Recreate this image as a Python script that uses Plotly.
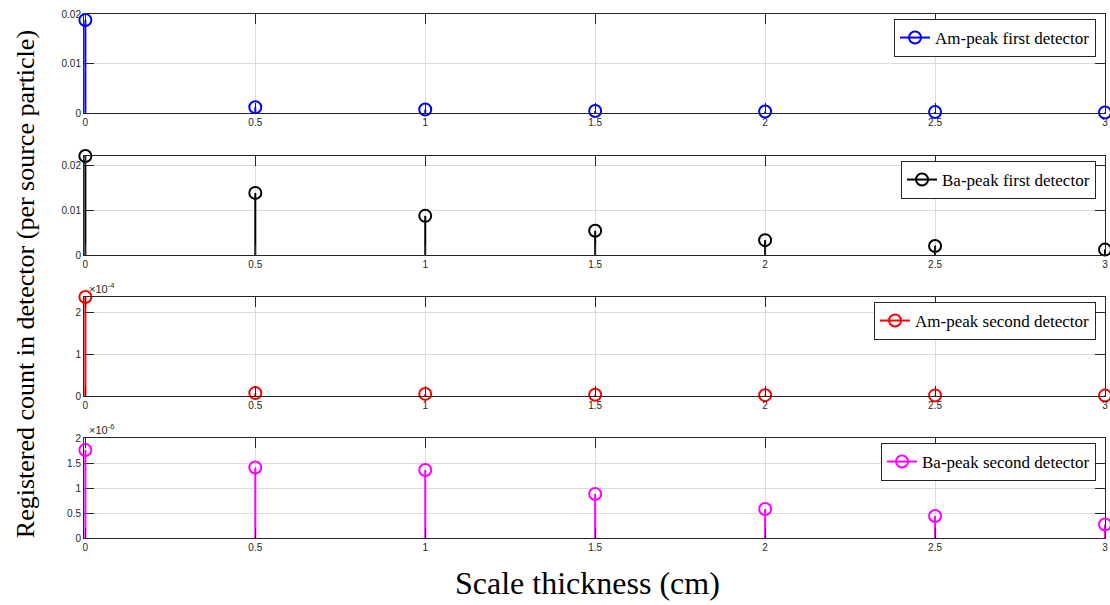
import plotly.graph_objects as go

# ---------------- data ----------------
thickness = [0, 0.5, 1, 1.5, 2, 2.5, 3]
am_first = [0.0188, 0.00115, 0.0007, 0.0004, 0.0003, 0.0002, 0.0001]
ba_first = [0.0220, 0.0138, 0.0087, 0.0054, 0.0033, 0.0020, 0.0012]
am_second = [2.38e-4, 0.07e-4, 0.05e-4, 0.03e-4, 0.02e-4, 0.015e-4, 0.01e-4]
ba_second = [1.76e-6, 1.41e-6, 1.36e-6, 0.88e-6, 0.58e-6, 0.44e-6, 0.27e-6]

series_names = ["Am-peak first detector", "Ba-peak first detector",
                "Am-peak second detector", "Ba-peak second detector"]
series_values = [am_first, ba_first, am_second, ba_second]
series_colors = ["#0000ff", "#000000", "#ff0000", "#ff00ff"]

x_tick_vals = [0, 0.5, 1, 1.5, 2, 2.5, 3]
x_tick_text = ["0", "0.5", "1", "1.5", "2", "2.5", "3"]
y_tick_vals = [[0, 0.01, 0.02], [0, 0.01, 0.02], [0, 1e-4, 2e-4],
               [0, 0.5e-6, 1e-6, 1.5e-6, 2e-6]]
y_tick_text = [["0", "0.01", "0.02"], ["0", "0.01", "0.02"], ["0", "1", "2"],
               ["0", "0.5", "1", "1.5", "2"]]
y_ranges = [[0, 0.02], [0, 0.022], [0, 2.38e-4], [0, 2e-6]]
x_range = [-0.004, 3]
exponents = [None, None, "\u00d710<sup>-4</sup>", "\u00d710<sup>-6</sup>"]

# ---------------- layout geometry (pixels) ----------------
W, H = 1110, 605
L, R, T, B = 84, 2, 14, 67
panel_px = [(14, 113), (156, 255), (297, 396), (438, 538)]
plot_h = H - T - B
plot_w = W - L - R


def py(p):
    return (H - B - p) / plot_h


fig = go.Figure()
layout = dict(
    width=W, height=H,
    margin=dict(l=L, r=R, t=T, b=B, pad=0),
    paper_bgcolor="white", plot_bgcolor="white",
    showlegend=True,
    annotations=[],
)

tick_font = dict(family="Liberation Sans, Arial, sans-serif", size=10, color="#262626")
serif = "Liberation Serif, Times New Roman, serif"

for i in range(4):
    n = "" if i == 0 else str(i + 1)
    xa, ya = "x" + n, "y" + n
    leg = "legend" + n
    vals = series_values[i]
    col = series_colors[i]
    # stems (drawn as one-sided error bars down to zero) + open circle markers
    fig.add_trace(go.Scatter(x=thickness, y=vals, mode="markers", xaxis=xa, yaxis=ya,
                             marker=dict(symbol="circle-open", size=12, color=col,
                                         line=dict(width=2, color=col)),
                             error_y=dict(type="data", symmetric=False,
                                          array=[0] * len(vals), arrayminus=vals,
                                          color=col, thickness=2, width=0),
                             showlegend=False, cliponaxis=False))
    # legend entry
    fig.add_trace(go.Scatter(x=[None], y=[None], mode="lines+markers", xaxis=xa, yaxis=ya,
                             name=series_names[i], legend=leg,
                             line=dict(color=col, width=2),
                             marker=dict(symbol="circle-open", size=12, color=col,
                                         line=dict(width=2, color=col))))
    top, bot = panel_px[i]
    axis_common = dict(showline=True, linecolor="#262626", linewidth=1, mirror="ticks",
                       ticks="inside", ticklen=10, tickwidth=1, tickcolor="#262626",
                       showgrid=True, gridcolor="#dcdcdc", gridwidth=1,
                       zeroline=False, tickfont=tick_font, ticklabeloverflow="allow")
    layout["xaxis" + n] = dict(axis_common, domain=[0, 1], range=x_range, anchor=ya,
                               tickvals=x_tick_vals, ticktext=x_tick_text)
    layout["yaxis" + n] = dict(axis_common, domain=[py(bot), py(top)], range=y_ranges[i],
                               anchor=xa, tickvals=y_tick_vals[i], ticktext=y_tick_text[i],
                               layer="below traces")
    layout[leg] = dict(x=1 - 9 / plot_w, xanchor="right", y=py(top + 5), yanchor="top",
                       xref="paper", yref="paper",
                       bgcolor="white", bordercolor="#262626", borderwidth=1,
                       font=dict(family=serif, size=17, color="black"))
    if exponents[i]:
        layout["annotations"].append(dict(text=exponents[i], xref="paper", yref="paper",
                                          x=3 / plot_w, y=py(top), xanchor="left",
                                          yanchor="bottom", showarrow=False,
                                          font=dict(tick_font, size=11)))

layout["annotations"].append(dict(
    text="Registered count in detector (per source particle)", textangle=-90,
    xref="paper", yref="paper", x=(25 - L) / plot_w, y=py(284),
    xanchor="center", yanchor="middle", showarrow=False,
    font=dict(family=serif, size=26, color="black")))
layout["annotations"].append(dict(
    text="Scale thickness (cm)",
    xref="paper", yref="paper", x=(589 - L) / plot_w, y=py(583),
    xanchor="center", yanchor="middle", showarrow=False,
    font=dict(family=serif, size=32, color="black")))

fig.update_layout(**layout)
fig.write_html("out.html")
